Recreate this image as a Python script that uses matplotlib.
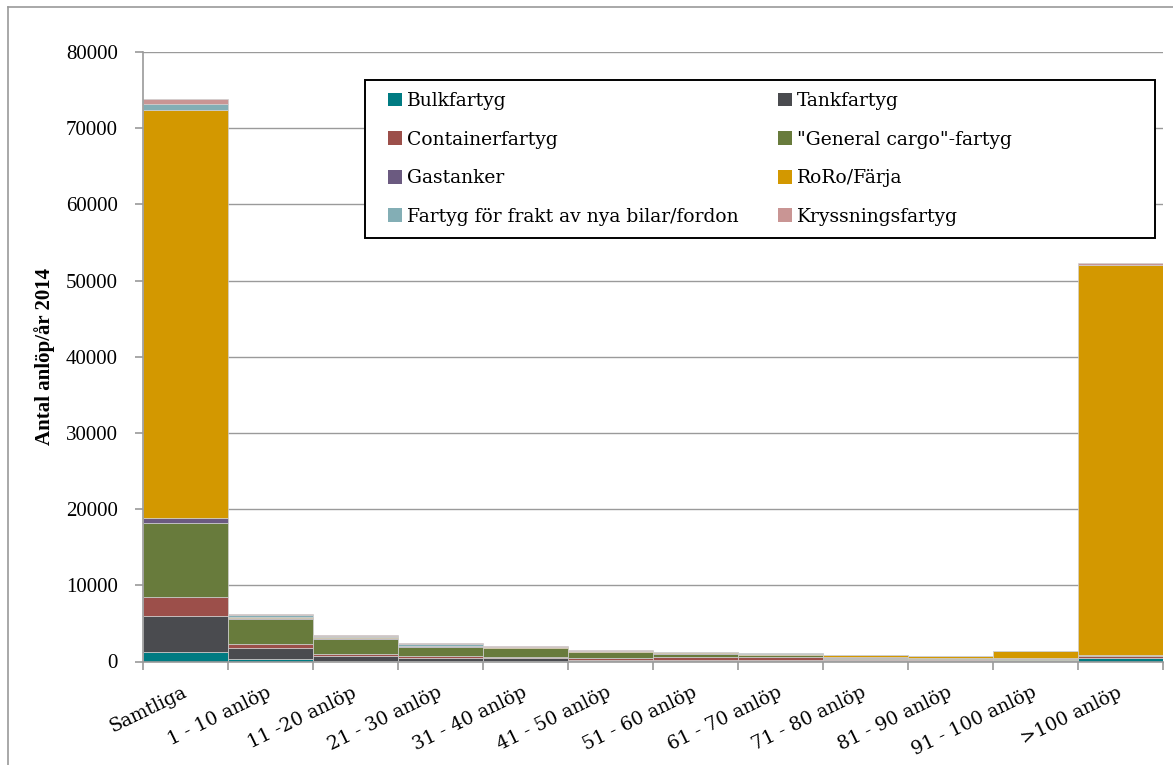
import matplotlib.pyplot as plt
import numpy as np
from matplotlib.lines import Line2D
from matplotlib.patches import Rectangle, Patch
from matplotlib.transforms import ScaledTranslation

# Categories on the x axis
categories = ["Samtliga", "1 - 10 anlöp", "11 -20 anlöp", "21 - 30 anlöp", "31 - 40 anlöp",
              "41 - 50 anlöp", "51 - 60 anlöp", "61 - 70 anlöp", "71 - 80 anlöp",
              "81 - 90 anlöp", "91 - 100 anlöp", ">100 anlöp"]

# Number of port calls per ship type (stacked bottom to top)
bulk = [1200, 300, 100, 60, 50, 40, 30, 30, 20, 20, 30, 400]
tank = [4800, 1450, 560, 360, 380, 200, 200, 200, 220, 230, 120, 80]
container = [2500, 570, 350, 340, 200, 230, 300, 300, 150, 100, 60, 300]
general = [9700, 3200, 1880, 1100, 1100, 800, 500, 330, 120, 60, 180, 40]
gas = [660, 220, 220, 130, 60, 40, 30, 20, 20, 20, 20, 60]
roro = [53550, 150, 130, 60, 60, 100, 180, 170, 300, 260, 950, 51120]
vehicle = [750, 220, 100, 220, 80, 20, 10, 10, 10, 10, 10, 10]
cruise = [660, 190, 80, 100, 40, 20, 10, 10, 10, 10, 10, 350]

series = [
    ("Bulkfartyg", bulk, "#007b82"),
    ("Tankfartyg", tank, "#4a4b4f"),
    ("Containerfartyg", container, "#9c4f4a"),
    ('"General cargo"-fartyg', general, "#687b3c"),
    ("Gastanker", gas, "#6b5a80"),
    ("RoRo/Färja", roro, "#d39800"),
    ("Fartyg för frakt av nya bilar/fordon", vehicle, "#83aeb5"),
    ("Kryssningsfartyg", cruise, "#c99594"),
]

serif_y = "Liberation Serif"
serif_x = "DejaVu Serif"

fig = plt.figure(figsize=(11.73, 7.65), dpi=100)
ax = fig.add_axes([143 / 1173, 1 - 661.5 / 765, 1020 / 1173, 609.5 / 765])

x = np.arange(len(categories))
bottom = np.zeros(len(categories))
for name, vals, col in series:
    ax.bar(x, vals, width=1.0, bottom=bottom, color=col, edgecolor="#d0d0d0",
           linewidth=0.5, label=name, zorder=2)
    bottom += np.array(vals)

# Axes styling
ax.set_xlim(-0.5, len(categories) - 0.5)
ax.set_ylim(0, 80000)
ax.set_yticks(np.arange(0, 80001, 10000))
ax.yaxis.grid(True, color="#9a9a9a", linewidth=1.0, zorder=0)
ax.set_axisbelow(True)
for s in ["top", "right"]:
    ax.spines[s].set_visible(False)
for s in ["left", "bottom"]:
    ax.spines[s].set_color("#9a9a9a")
    ax.spines[s].set_linewidth(1.2)
    ax.spines[s].set_zorder(3)

ax.tick_params(axis="y", length=6, color="#9a9a9a", width=1.2, pad=12)
for lab in ax.get_yticklabels():
    lab.set_fontfamily(serif_y)
    lab.set_fontsize(15)

# Category labels at bar centers, tick marks at bar boundaries
ax.set_xticks(x)
ax.set_xticklabels(categories, rotation=26, ha="right", rotation_mode="anchor",
                   fontfamily=serif_x, fontsize=13.5)
ax.tick_params(axis="x", which="major", length=0, pad=13)
shift = ScaledTranslation(-4 / 100, -4 / 100, fig.dpi_scale_trans)
for lab in ax.get_xticklabels():
    lab.set_transform(lab.get_transform() + shift)
ax.set_xticks(np.arange(-0.5, len(categories), 1.0), minor=True)
ax.tick_params(axis="x", which="minor", length=6, color="#9a9a9a", width=1.2)

ax.set_ylabel("Antal anlöp/år 2014", fontfamily=serif_y, fontsize=15,
              fontweight="bold")
ax.yaxis.set_label_coords(-0.086, 0.5)

# Legend in two columns inside a white box with black frame
handles = {name: Patch(facecolor=col, edgecolor="none") for name, _, col in series}
left_names = ["Bulkfartyg", "Containerfartyg", "Gastanker",
              "Fartyg för frakt av nya bilar/fordon"]
right_names = ["Tankfartyg", '"General cargo"-fartyg', "RoRo/Färja", "Kryssningsfartyg"]

fig.add_artist(Rectangle((365 / 1173, 1 - 238 / 765), 790 / 1173, 158 / 765,
                         transform=fig.transFigure, facecolor="white", edgecolor="black",
                         linewidth=1.4, zorder=4))

legend_kw = dict(frameon=False, handlelength=0.75, handleheight=0.75, handletextpad=0.25,
                 labelspacing=1.1, borderpad=0, borderaxespad=0,
                 prop={"family": serif_x, "size": 13.5}, loc="upper left")
leg1 = fig.legend([handles[n] for n in left_names], left_names,
                  bbox_to_anchor=(388 / 1173, 1 - 92 / 765), **legend_kw)
leg2 = fig.legend([handles[n] for n in right_names], right_names,
                  bbox_to_anchor=(778 / 1173, 1 - 92 / 765), **legend_kw)
leg1.set_zorder(6)
leg2.set_zorder(6)

# Outer chart border (top and left edges)
fig.add_artist(Line2D([8 / 1173, 1.0], [1 - 7 / 765, 1 - 7 / 765],
                      transform=fig.transFigure, color="#9a9a9a", linewidth=1.2))
fig.add_artist(Line2D([8 / 1173, 8 / 1173], [0.0, 1 - 7 / 765],
                      transform=fig.transFigure, color="#9a9a9a", linewidth=1.2))

fig.savefig("out.png", dpi=100)
